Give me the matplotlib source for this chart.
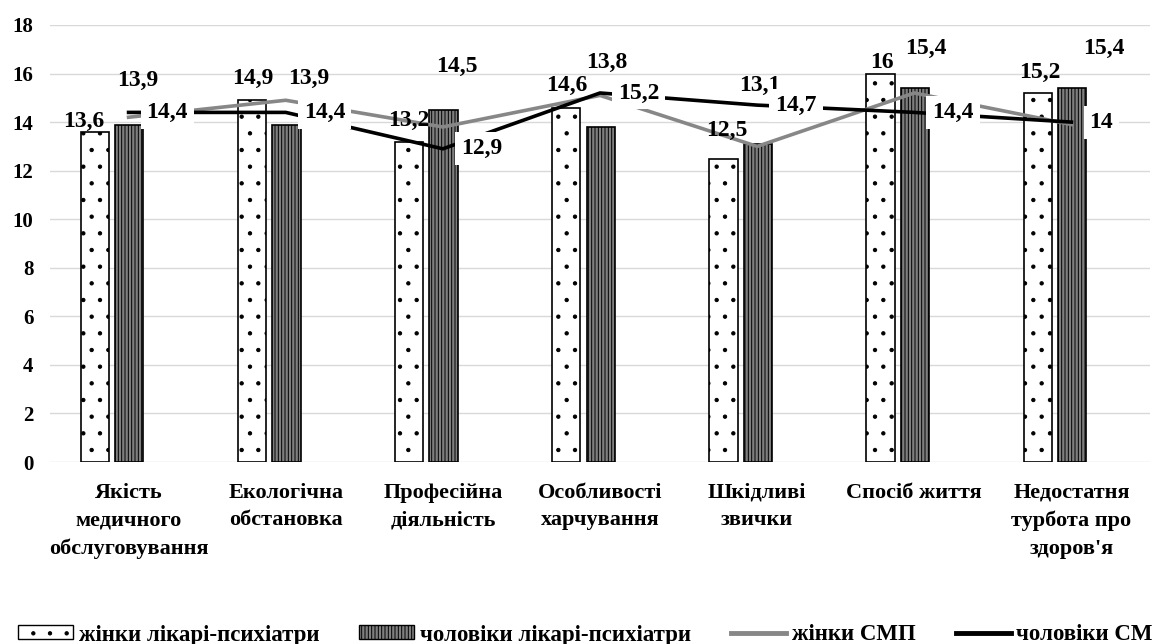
import numpy as np
import matplotlib.pyplot as plt
from matplotlib.patches import Patch
from matplotlib.lines import Line2D

plt.rcParams['font.family'] = ['Liberation Serif', 'DejaVu Serif']
plt.rcParams['font.weight'] = 'bold'
plt.rcParams['hatch.linewidth'] = 0.7

# фактори ризику
categories = ['Якість\nмедичного\nобслуговування', 'Екологічна\nобстановка',
              'Професійна\nдіяльність', 'Особливості\nхарчування',
              'Шкідливі\nзвички', 'Спосіб життя', 'Недостатня\nтурбота про\nздоров\'я']
zhinky_psych = [13.6, 14.9, 13.2, 14.6, 12.5, 16, 15.2]
choloviky_psych = [13.9, 13.9, 14.5, 13.8, 13.1, 15.4, 15.4]
zhinky_smp = [14.2, 14.9, 13.8, 15.1, 13.0, 15.2, 13.9]
choloviky_smp = [14.4, 14.4, 12.9, 15.2, 14.7, 14.4, 14]
series_names = ['жінки лікарі-психіатри', 'чоловіки лікарі-психіатри',
                'жінки СМП', 'чоловіки СМП']
y_ticks = [0, 2, 4, 6, 8, 10, 12, 14, 16, 18]

# зсуви підписів стовпців, пікселі (dx, dy над верхом стовпця)
w_shift = [(-11, 10), (1, 22), (0, 21), (1, 22), (3, 28), (1, 11), (2, 21)]
m_shift = [(8, 44), (22, 46), (13, 44), (6, 65), (2, 59), (11, 40), (32, 40)]


def fmt(v):
    return f'{v:g}'.replace('.', ',')


x = np.arange(len(categories))
fig = plt.figure(figsize=(11.52, 6.44), dpi=100)
ax = fig.add_axes([50 / 1152, 182 / 644, 1100 / 1152, 437 / 644])

bw = 0.18
ax.bar(x - 0.215, zhinky_psych, bw, facecolor='white', edgecolor='black',
       hatch='.', lw=1.2, zorder=2)
ax.bar(x + 0.005, choloviky_psych, bw, facecolor='#7f7f7f', edgecolor='black',
       hatch='|||||', lw=1.2, zorder=2)
ax.plot(x, zhinky_smp, color='#878787', lw=2.6, zorder=3)
ax.plot(x, choloviky_smp, color='black', lw=2.6, zorder=3)

for i in range(len(x)):
    ax.annotate(fmt(zhinky_psych[i]), (x[i] - 0.215, zhinky_psych[i]),
                xytext=w_shift[i], textcoords='offset pixels',
                ha='center', va='center', fontsize=17, zorder=4)
    ax.annotate(fmt(choloviky_psych[i]), (x[i] + 0.005, choloviky_psych[i]),
                xytext=m_shift[i], textcoords='offset pixels',
                ha='center', va='center', fontsize=17, zorder=4)
for i in range(len(x)):
    ax.annotate(fmt(choloviky_smp[i]), (x[i], choloviky_smp[i]),
                xytext=(18, 0), textcoords='offset pixels',
                ha='left', va='center', fontsize=17, zorder=5,
                bbox=dict(boxstyle='square,pad=0.25', facecolor='white',
                          edgecolor='none'))

ax.set_xlim(-0.5, 6.5)
ax.set_ylim(0, 18)
ax.set_yticks(y_ticks)
ax.set_xticks(x)
ax.set_xticklabels(categories, fontsize=16, linespacing=1.5)
ax.tick_params(axis='y', length=0, pad=12, labelsize=15)
ax.tick_params(axis='x', length=0, pad=15)
ax.yaxis.grid(True, color='#d9d9d9', lw=1)
ax.set_axisbelow(True)
for s in ax.spines.values():
    s.set_visible(False)

handles = [Patch(facecolor='white', edgecolor='black', hatch='.', lw=1),
           Patch(facecolor='#7f7f7f', edgecolor='black', hatch='|||||', lw=1),
           Line2D([], [], color='#878787', lw=3.5),
           Line2D([], [], color='black', lw=3.5)]
fig.legend(handles, series_names, loc='center left',
           bbox_to_anchor=(18 / 1152, 9 / 644),
           ncol=4, frameon=False, fontsize=16.5, handlelength=2.4,
           handleheight=0.55, handletextpad=0.25, columnspacing=1.75,
           borderaxespad=0, borderpad=0)

fig.savefig('out.png', dpi=100)
